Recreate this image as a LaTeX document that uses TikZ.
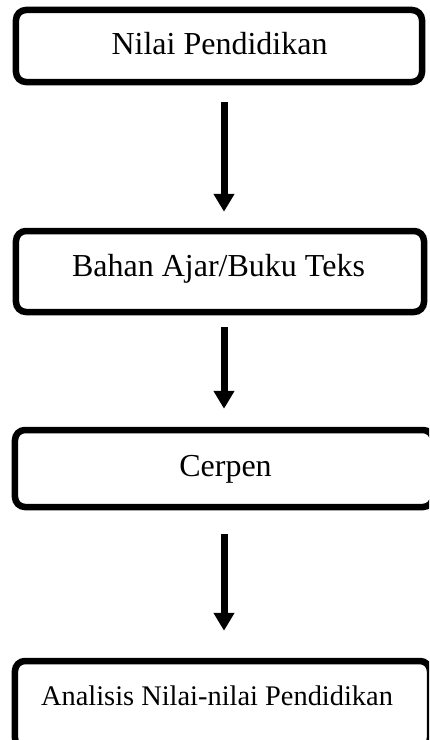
\documentclass[tikz,border=0pt]{standalone}
\usepackage{fontspec}
\setmainfont{Liberation Serif}
\usetikzlibrary{arrows.meta}
\begin{document}
\begin{tikzpicture}[x=1bp,y=-1bp,
  box/.style={draw=black,line width=6.5bp,rounded corners=10bp,rectangle,inner sep=0pt},
  lbl/.style={anchor=base,inner sep=0pt,font=\fontsize{32bp}{38bp}\selectfont},
  arr/.style={line width=7bp,-{Triangle[width=20bp,length=18bp]}}]
\useasboundingbox (0,0) rectangle (429,740);
\clip (0,0) rectangle (429,740);
\node[box,minimum width=406bp,minimum height=72bp] (b1) at (219,46) {};
\node[box,minimum width=408bp,minimum height=81bp] (b2) at (220,271.5) {};
\node[box,minimum width=418bp,minimum height=77bp] (b3) at (224,468.5) {};
\node[box,minimum width=415bp,minimum height=87bp] (b4) at (222.5,704.5) {};
\node[lbl] (t1) at (219.5,55) {Nilai Pendidikan};
\node[lbl] (t2) at (218.5,276) {Bahan Ajar/Buku Teks};
\node[lbl] (t3) at (225.5,476) {Cerpen};
\node[lbl,font=\fontsize{28.4bp}{34bp}\selectfont] (t4) at (217,705) {Analisis Nilai-nilai Pendidikan};
\coordinate (ax) at (224,0);
\draw[arr,shorten <=17bp,shorten >=16bp] (ax |- b1.south) -- (ax |- b2.north);
\draw[arr,shorten <=12bp,shorten >=18bp] (ax |- b2.south) -- (ax |- b3.north);
\draw[arr,shorten <=24bp,shorten >=27bp] (ax |- b3.south) -- (ax |- b4.north);
\end{tikzpicture}
\end{document}
